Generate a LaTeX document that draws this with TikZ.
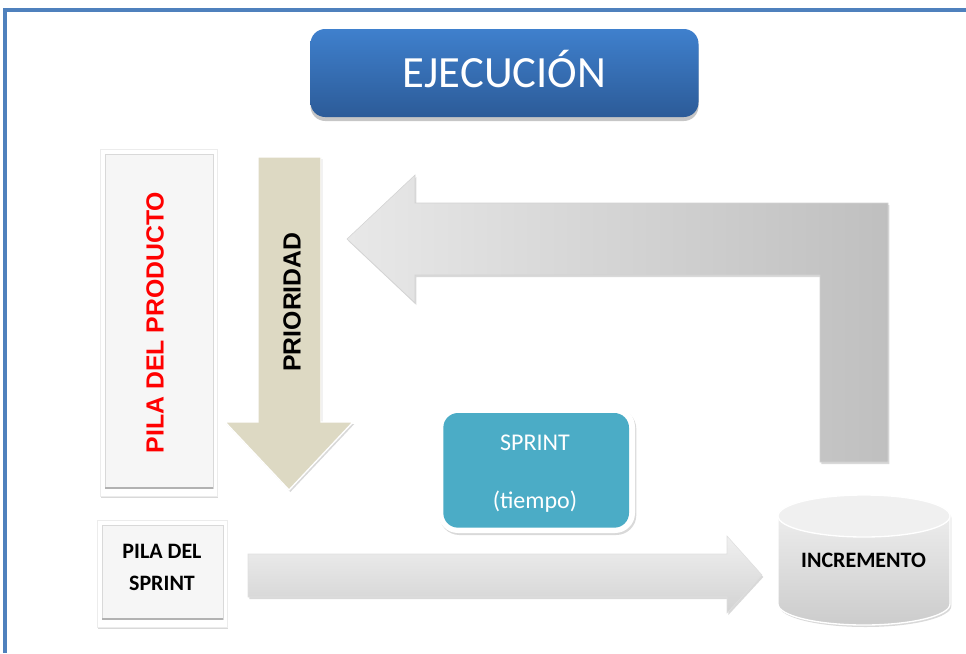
\documentclass[tikz,border=0pt]{standalone}
\usepackage{fontspec}
\setmainfont{Carlito}
\newfontfamily\arialfont{Liberation Sans}
\usetikzlibrary{shapes,positioning,shadows}

\definecolor{framecol}{HTML}{4F81BD}
\definecolor{titletop}{HTML}{3F80CD}
\definecolor{titlebot}{HTML}{2C5B98}
\definecolor{tanarrow}{HTML}{DDD9C3}
\definecolor{sprintcol}{HTML}{4BACC6}

\begin{document}
\begin{tikzpicture}[x=0.75pt,y=-0.75pt]
    \tikzstyle{softshadow}=[drop shadow={opacity=0.3,shadow xshift=1pt,shadow yshift=-1.5pt}]
    \tikzstyle{pila}=[rectangle, fill=white, draw=gray!15, softshadow, path picture={
        \draw[fill=gray!7, draw=gray!30] ([shift={(4pt,-4pt)}]path picture bounding box.north west) rectangle ([shift={(-3pt,6pt)}]path picture bounding box.south east);
        \draw[gray!60, line width=1.2pt] ([shift={(4pt,6pt)}]path picture bounding box.south west) -- ([shift={(-3pt,6pt)}]path picture bounding box.south east);}]
    \tikzstyle{vlabel}=[rotate=90, font=\arialfont\bfseries\fontsize{18.6}{22}\selectfont]
    \tikzstyle{lbl}=[font=\bfseries\fontsize{16.5}{24}\selectfont, align=center]

    \useasboundingbox (0,0) rectangle (966,653);
    \draw[framecol, line width=2.4pt] (5,653) -- (5,10) -- (966,10);

    \node[rectangle, rounded corners=11pt, minimum width=291pt, minimum height=66pt, top color=titletop, bottom color=titlebot, text=white, font=\fontsize{33.5}{40}\selectfont, text height=22pt, text depth=0pt, drop shadow={opacity=0.45,shadow xshift=0pt,shadow yshift=-3pt}] (title) at (504.5,73) {EJECUCIÓN};

    \path[left color=gray!18, right color=gray!50, draw=gray!35, softshadow] (347,239) -- (415,175) -- (415,203) -- (888,203) -- (888,462) -- (820,462) -- (820,275) -- (415,275) -- (415,303) -- cycle;

    \path[fill=tanarrow, draw=white, line width=1pt, softshadow] (258,157) -- (321,157) -- (321,422) -- (353,422) -- (289,490) -- (225,422) -- (258,422) -- cycle;
    \node[vlabel] (prioridad) at (292,302) {PRIORIDAD};

    \node[pila, minimum width=87.75pt, minimum height=260.25pt] (pilaprod) at (158.5,322.5) {};
    \node[vlabel, text=red] (pilaprodtext) at ([xshift=-2.6pt]pilaprod.center) {PILA DEL PRODUCTO};

    \node[pila, lbl, minimum width=97.5pt, minimum height=80.25pt, text depth=9pt] (pilasprint) at (162,573.5) {PILA DEL\\SPRINT};

    \path[top color=gray!12, bottom color=gray!35, draw=gray!25, softshadow] (248,554) -- (727,554) -- (727,536) -- (762,575) -- (727,613) -- (727,597) -- (248,597) -- cycle;

    \node[rectangle, rounded corners=15pt, fill=white, minimum width=147.75pt, minimum height=94.5pt, softshadow, path picture={\fill[sprintcol, rounded corners=11pt] ([shift={(4pt,-4.5pt)}]path picture bounding box.north west) rectangle ([shift={(-4.5pt,4pt)}]path picture bounding box.south east);}] (sprint) at (536.5,470) {};
    \node[text=white, font=\fontsize{18}{43.5}\selectfont, align=center] (sprinttext) at (535,474) {SPRINT\\(tiempo)};

    \path[top color=gray!10, bottom color=gray!40, draw=white, line width=1pt, softshadow] (778,516) -- (778,604) arc[start angle=180, end angle=360, x radius=64.5pt, y radius=15.75pt] -- (950,516) arc[start angle=0, end angle=180, x radius=64.5pt, y radius=15.75pt] -- cycle;
    \draw[white, line width=1pt, fill=gray!12] (864,516) ellipse [x radius=64.5pt, y radius=15.75pt];
    \node[lbl] (incremento) at (863.5,560) {INCREMENTO};
\end{tikzpicture}
\end{document}
